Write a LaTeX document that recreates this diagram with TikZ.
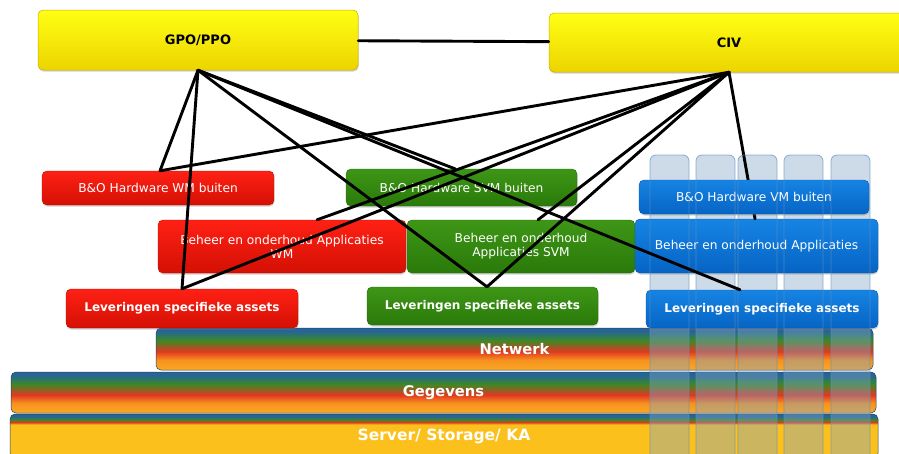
\documentclass[tikz,border=0pt]{standalone}
\usepackage{fontspec}
\setmainfont{DejaVu Sans}
\usetikzlibrary{shadows}

% box colours
\definecolor{yeltop}{RGB}{255,255,20}
\definecolor{yelbot}{RGB}{236,212,0}
\definecolor{yeledge}{RGB}{200,175,0}
\definecolor{redtop}{RGB}{255,32,20}
\definecolor{redbot}{RGB}{212,16,4}
\definecolor{greentop}{RGB}{62,150,22}
\definecolor{greenbot}{RGB}{42,122,10}
\definecolor{bluetop}{RGB}{22,132,228}
\definecolor{bluebot}{RGB}{6,100,196}
% layer band colours
\definecolor{bandblue}{RGB}{40,100,150}
\definecolor{bandteal}{RGB}{45,120,95}
\definecolor{bandgreen}{RGB}{62,136,36}
\definecolor{bandred}{RGB}{226,56,34}
\definecolor{bandorange}{RGB}{246,146,30}
\definecolor{bandorangelt}{RGB}{250,168,38}
\definecolor{srvyellow}{RGB}{252,192,28}
\definecolor{colfill}{RGB}{130,165,200}
\definecolor{coledge}{RGB}{95,145,190}

\pgfdeclareverticalshading{layerband}{100bp}{color(0bp)=(bandorangelt); color(25bp)=(bandorangelt);
  color(37bp)=(bandorange); color(47bp)=(bandred); color(60bp)=(bandgreen); color(66bp)=(bandteal);
  color(71bp)=(bandblue); color(100bp)=(bandblue)}
\pgfdeclareverticalshading{serverband}{100bp}{color(0bp)=(srvyellow); color(63bp)=(srvyellow);
  color(65.5bp)=(bandred); color(68.5bp)=(bandgreen); color(72bp)=(bandblue); color(100bp)=(bandblue)}

\begin{document}
\begin{tikzpicture}[x=1pt,y=-1pt,
  layerbox/.style={rounded corners=5pt, inner sep=0pt, text=white, align=center,
    font=\fontsize{12.2}{14}\selectfont,
    drop shadow={opacity=0.35, shadow xshift=0.6pt, shadow yshift=-1.6pt}},
  yellowbox/.style={layerbox, text=black, font=\bfseries\fontsize{13}{15}\selectfont,
    top color=yeltop, bottom color=yelbot, draw=yeledge, line width=0.5pt},
  redbox/.style={layerbox, top color=redtop, bottom color=redbot, draw=redbot!85!black, line width=0.4pt},
  greenbox/.style={layerbox, top color=greentop, bottom color=greenbot, draw=greenbot!85!black, line width=0.4pt},
  bluebox/.style={layerbox, top color=bluetop, bottom color=bluebot, draw=bluebot!85!black, line width=0.4pt},
  boldlabel/.style={font=\bfseries\fontsize{12}{14}\selectfont},
  band/.style={rounded corners=5pt, inner sep=0pt, text=white, shade, shading=layerband,
    font=\bfseries\fontsize{14.7}{16}\selectfont, draw=bandblue!70!black, line width=0.5pt},
  colbody/.style={rounded corners=6pt, fill=colfill, fill opacity=0.4},
  coledges/.style={rounded corners=6pt, draw=coledge, line width=0.8pt, draw opacity=0.7},
  link/.style={line width=2.9pt, line cap=round, line join=round}]

\useasboundingbox (0,0) rectangle (899,453);
\fill[white] (0,0) rectangle (899,453);

% infrastructure layers
\node[band, minimum width=717pt, minimum height=42pt] (netwerk) at (514.5,349) {Netwerk};
\node[band, minimum width=865pt, minimum height=41pt] (gegevens) at (443.5,392.5) {Gegevens};
\node[band, shading=serverband, minimum width=868pt, minimum height=44pt,
  font=\bfseries\fontsize{15.5}{17}\selectfont] (server) at (444,436) {Server/ Storage/ KA};

% vertical columns behind the blue stack
\foreach \a/\b in {650/689,696/735,738/777,784/823,831/870}
  \fill[colbody] (\a,155) rectangle (\b,470);

% owners
\node[yellowbox, minimum width=320pt, minimum height=60pt] (gpo) at (198,40) {GPO/PPO};
\node[yellowbox, minimum width=360pt, minimum height=59pt] (civ) at (729,42.5) {CIV};

% red and green stacks
\node[redbox, minimum width=232pt, minimum height=34pt] (rb) at (158,188) {B\&O Hardware WM buiten};
\node[greenbox, minimum width=231pt, minimum height=37pt] (gb) at (461.5,187.5) {B\&O Hardware SVM buiten};
\node[redbox, minimum width=248pt, minimum height=53pt] (rbh) at (282,246.5) {Beheer en onderhoud Applicaties\\WM};
\node[greenbox, minimum width=228pt, minimum height=53pt] (gbh) at (521,246.5) {Beheer en onderhoud\\Applicaties SVM};
\node[redbox, boldlabel, minimum width=232pt, minimum height=39pt] (rl) at (182,308.5) {Leveringen specifieke assets};
\node[greenbox, boldlabel, minimum width=231pt, minimum height=38pt] (gl) at (482.5,306) {Leveringen specifieke assets};

% blue stack
\node[bluebox, minimum width=243pt, minimum height=54pt] (bbh) at (756.5,246) {Beheer en onderhoud Applicaties};
\draw[link] (civ.south) -- ([xshift=-1.5pt]bbh.north);
\node[bluebox, minimum width=230pt, minimum height=34pt] (bb) at (754,197) {B\&O Hardware VM buiten};
\node[bluebox, boldlabel, minimum width=232pt, minimum height=38pt] (bl) at (762,309) {Leveringen specifieke assets};

% column outlines
\foreach \a/\b in {650/689,696/735,738/777,784/823,831/870}
  \draw[coledges] (\a,155) rectangle (\b,470);

% relations
\draw[link] (gpo) -- (civ);
\draw[link] (gpo.south) -- ([xshift=2pt]rb.north);
\draw[link] (gpo.south) -- (rl.north);
\draw[link] (gpo.south) -- ([xshift=-6.5pt]gb.north);
\draw[link] (gpo.south) -- ([xshift=4.5pt]gl.north);
\draw[link] (gpo.south) -- ([xshift=-22pt]bl.north);
\draw[link] (civ.south) -- ([xshift=2pt]rb.north);
\draw[link] (civ.south) -- ([xshift=35pt]rbh.north);
\draw[link] (civ.south) -- (rl.north);
\draw[link] (civ.south) -- ([xshift=17pt]gbh.north);
\draw[link] (civ.south) -- ([xshift=4.5pt]gl.north);

\end{tikzpicture}
\end{document}
